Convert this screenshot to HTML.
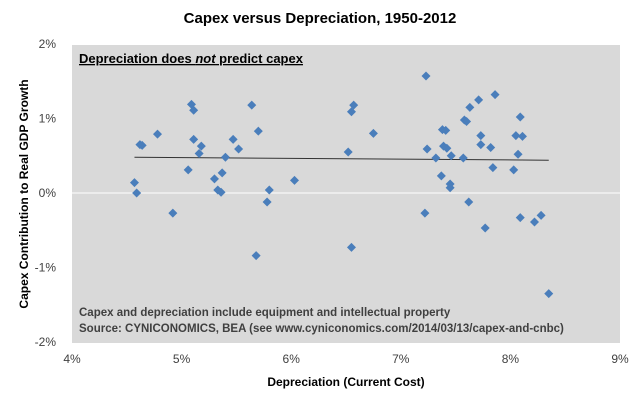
<!DOCTYPE html>
<html><head><meta charset="utf-8"><style>
body{margin:0;background:#fff;font-family:"Liberation Sans",sans-serif}
svg text{font-family:"Liberation Sans",sans-serif}
</style></head><body>
<svg id="c" width="640" height="404">
<text x="320" y="23" text-anchor="middle" font-size="15" font-weight="bold" fill="#000">Capex versus Depreciation, 1950-2012</text>
<rect x="72" y="45" width="548" height="298" fill="#d9d9d9"/>
<g id="yt"></g><g id="xt"></g><g id="pts"></g>
<text x="79" y="63" font-size="13" font-weight="bold" fill="#000" text-decoration="underline">Depreciation does <tspan font-style="italic">not</tspan> predict capex</text>
<text x="79" y="316" font-size="11.5" font-weight="bold" fill="#404040">Capex and depreciation include equipment and intellectual property</text>
<text x="79" y="332" font-size="11.5" font-weight="bold" fill="#404040">Source:  CYNICONOMICS, BEA  (see www.cyniconomics.com/2014/03/13/capex-and-cnbc)</text>
<text x="346" y="386" text-anchor="middle" font-size="12" font-weight="bold">Depreciation (Current Cost)</text>
<text transform="translate(28,194) rotate(-90)" text-anchor="middle" font-size="12" font-weight="bold">Capex Contribution  to Real GDP  Growth</text>
</svg>
<script>
const depreciation=[4.57,4.59,4.62,4.64,4.78,4.92,5.06,5.09,5.11,5.11,5.18,5.16,5.30,5.33,5.36,5.37,5.40,5.47,5.52,5.64,5.70,5.68,5.80,5.78,6.03,
7.23,6.57,6.55,6.75,6.52,6.55,7.24,7.22,7.32,7.38,7.41,7.39,7.42,7.46,7.37,7.45,7.45,7.57,7.58,7.60,7.63,7.62,7.71,7.73,7.73,7.82,7.84,7.86,7.77,8.03,8.05,8.11,8.07,8.09,8.09,8.22,8.28,8.35];
const capex=[0.14,0.00,0.65,0.64,0.79,-0.27,0.31,1.19,1.11,0.72,0.63,0.53,0.19,0.04,0.01,0.27,0.48,0.72,0.59,1.18,0.83,-0.84,0.04,-0.12,0.17,
1.57,1.18,1.09,0.80,0.55,-0.73,0.59,-0.27,0.47,0.85,0.84,0.63,0.60,0.50,0.23,0.12,0.07,0.47,0.98,0.96,1.15,-0.12,1.25,0.77,0.65,0.61,0.34,1.32,-0.47,0.31,0.77,0.76,0.52,1.02,-0.33,-0.39,-0.30,-1.35];
const trendX=[4.57,8.35];
const trendY=[0.48,0.44];
const xTicks=[4,5,6,7,8,9];
const yTicks=[2,1,0,-1,-2];
const X=v=>72+(v-4)*109.6, Y=v=>193-v*74.5;
const NS='http://www.w3.org/2000/svg';
function mk(t,a,p){const e=document.createElementNS(NS,t);for(const k in a)e.setAttribute(k,a[k]);p.appendChild(e);return e;}
const yt=document.getElementById('yt'),xt=document.getElementById('xt'),pts=document.getElementById('pts');
yTicks.forEach(v=>{
  const t=mk('text',{x:56,y:Y(v)+4,'text-anchor':'end','font-size':12,fill:'#404040'},yt);t.textContent=v+'%';
  
  
  if(v===0){const l=mk('line',{x1:72,x2:620,y1:Y(0),y2:Y(0),stroke:'#fff','stroke-width':1},yt);
  
  }
});
xTicks.forEach(v=>{
  const t=mk('text',{x:X(v),y:363,'text-anchor':'middle','font-size':12,fill:'#404040'},xt);t.textContent=v+'%';
  
  
});
const tl=mk('line',{x1:X(trendX[0]),y1:Y(trendY[0]),x2:X(trendX[1]),y2:Y(trendY[1]),stroke:'#333','stroke-width':1},pts);


depreciation.forEach((d,i)=>{
  const x=X(d),y=Y(capex[i]),r=4.5;
  const p=mk('polygon',{points:`${x},${y-r} ${x+r},${y} ${x},${y+r} ${x-r},${y}`,fill:'#4a7ebb'},pts);
  
  
});
</script>
</body></html>
